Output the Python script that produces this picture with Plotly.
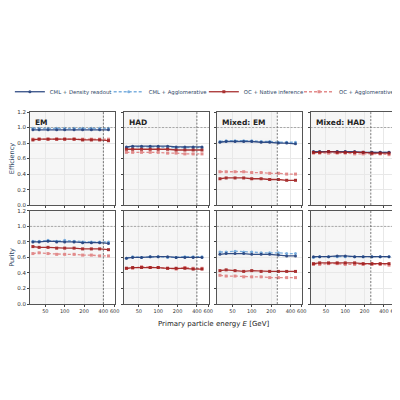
import plotly.graph_objects as go
from plotly.subplots import make_subplots

energy = [32, 40, 55, 75, 100, 140, 190, 260, 350, 480]
panels = ["EM", "HAD", "Mixed: EM", "Mixed: HAD"]
cut = [400, 400, 250, 250]

series = ["CML + Density readout", "CML + Agglomerative", "OC + Native inference", "OC + Agglomerative"]
colors = ["#1f3d7a", "#6fa8dc", "#a01c1c", "#e08080"]
dashes = ["solid", "3px,2px", "solid", "3px,2px"]
legend_x = [-0.055, 0.215, 0.475, 0.735]

eff = {
    "EM": [[0.97]*10, [0.99]*10, [0.84, 0.85, 0.85, 0.85, 0.85, 0.85, 0.84, 0.84, 0.84, 0.83], [0.85]*10],
    "HAD": [[0.75, 0.76, 0.76, 0.76, 0.76, 0.76, 0.75, 0.75, 0.75, 0.75],
            [0.74, 0.75, 0.75, 0.75, 0.75, 0.74, 0.74, 0.74, 0.74, 0.74],
            [0.72, 0.72, 0.72, 0.72, 0.72, 0.72, 0.71, 0.71, 0.71, 0.71],
            [0.68, 0.68, 0.68, 0.68, 0.68, 0.67, 0.67, 0.66, 0.66, 0.66]],
    "Mixed: EM": [[0.81, 0.82, 0.82, 0.82, 0.82, 0.81, 0.81, 0.80, 0.80, 0.79],
                  [0.82, 0.83, 0.83, 0.83, 0.83, 0.82, 0.82, 0.81, 0.81, 0.81],
                  [0.34, 0.35, 0.35, 0.35, 0.34, 0.34, 0.33, 0.33, 0.32, 0.32],
                  [0.43, 0.43, 0.43, 0.43, 0.42, 0.42, 0.41, 0.41, 0.40, 0.40]],
    "Mixed: HAD": [[0.69, 0.69, 0.69, 0.69, 0.69, 0.69, 0.68, 0.68, 0.68, 0.68],
                   [0.68, 0.69, 0.69, 0.69, 0.69, 0.68, 0.68, 0.68, 0.68, 0.68],
                   [0.68, 0.68, 0.69, 0.68, 0.68, 0.68, 0.68, 0.67, 0.67, 0.67],
                   [0.67, 0.67, 0.67, 0.67, 0.67, 0.66, 0.66, 0.66, 0.66, 0.65]],
}
pur = {
    "EM": [[0.80, 0.80, 0.81, 0.80, 0.80, 0.80, 0.79, 0.79, 0.79, 0.78],
           [0.81, 0.81, 0.82, 0.81, 0.82, 0.81, 0.80, 0.80, 0.80, 0.80],
           [0.74, 0.73, 0.73, 0.72, 0.72, 0.72, 0.71, 0.71, 0.71, 0.70],
           [0.65, 0.66, 0.65, 0.64, 0.64, 0.64, 0.63, 0.63, 0.62, 0.62]],
    "HAD": [[0.59, 0.60, 0.60, 0.61, 0.61, 0.61, 0.60, 0.60, 0.60, 0.60],
            [0.59, 0.61, 0.60, 0.61, 0.61, 0.60, 0.60, 0.61, 0.61, 0.61],
            [0.46, 0.47, 0.47, 0.47, 0.47, 0.46, 0.46, 0.46, 0.45, 0.45],
            [0.46, 0.46, 0.48, 0.47, 0.47, 0.46, 0.45, 0.47, 0.46, 0.46]],
    "Mixed: EM": [[0.64, 0.65, 0.65, 0.65, 0.64, 0.64, 0.64, 0.63, 0.62, 0.62],
                  [0.67, 0.67, 0.68, 0.67, 0.67, 0.66, 0.66, 0.66, 0.65, 0.65],
                  [0.43, 0.44, 0.43, 0.42, 0.43, 0.42, 0.42, 0.42, 0.42, 0.42],
                  [0.37, 0.36, 0.36, 0.35, 0.35, 0.35, 0.34, 0.34, 0.34, 0.34]],
    "Mixed: HAD": [[0.61, 0.61, 0.61, 0.62, 0.62, 0.61, 0.61, 0.61, 0.61, 0.61],
                   [0.60, 0.61, 0.61, 0.61, 0.61, 0.61, 0.61, 0.61, 0.61, 0.61],
                   [0.52, 0.53, 0.53, 0.53, 0.53, 0.53, 0.52, 0.52, 0.52, 0.52],
                   [0.51, 0.51, 0.52, 0.52, 0.51, 0.51, 0.51, 0.51, 0.51, 0.50]],
}

fig = make_subplots(rows=2, cols=4, shared_yaxes=True, shared_xaxes=True,
                    horizontal_spacing=0.022, vertical_spacing=0.03)

for c, p in enumerate(panels):
    for r, data in enumerate([eff, pur]):
        row, col = r + 1, c + 1
        for i in [1, 3, 0, 2]:
            fig.add_trace(go.Scatter(
                x=energy, y=data[p][i], mode="lines+markers", name=series[i],
                line=dict(color=colors[i], width=1.3, dash=dashes[i]),
                marker=dict(size=3, symbol="circle" if i < 2 else "square"),
                opacity=0.9, showlegend=(r == 0 and c == 0),
                legend="legend" if i == 0 else f"legend{i+1}"), row=row, col=col)
        fig.add_vrect(x0=20, x1=cut[c], fillcolor="#f6f6f6", line_width=0, layer="below", row=row, col=col)
        fig.add_vline(x=cut[c], line=dict(color="#444", width=0.7, dash="2px,1.5px"), row=row, col=col)
        fig.add_hline(y=1.0, line=dict(color="#666", width=0.5, dash="2px,1.5px"), row=row, col=col)
    fig.add_annotation(text="<b>" + p + "</b>", x=0.04, y=0.96, xanchor="left", yanchor="top",
                       xref=f"x{c+1 if c else ''} domain", yref=f"y{c+1 if c else ''} domain",
                       showarrow=False, font=dict(size=7.5, color="#222"))

fig.update_xaxes(type="log", range=[1.46, 2.79], tickvals=[50, 100, 200, 400, 600],
                 ticktext=["50", "100", "200", "400", "600"], tickangle=0, showline=True, mirror=True,
                 linecolor="#555", linewidth=0.8, gridcolor="#e8e8e8", ticks="outside",
                 ticklen=2, tickfont=dict(size=5, color="#333"), zeroline=False)
fig.update_xaxes(showticklabels=False, row=1)
fig.update_yaxes(range=[0, 1.2], dtick=0.2, tickformat=".1f", showline=True, mirror=True,
                 linecolor="#555", linewidth=0.8, gridcolor="#e8e8e8", ticks="outside",
                 ticklen=2, tickfont=dict(size=5.5, color="#333"), zeroline=False, automargin=False)
fig.update_yaxes(title_text="Efficiency", title_font=dict(size=6.5), title_standoff=1, row=1, col=1)
fig.update_yaxes(title_text="Purity", title_font=dict(size=6.5), title_standoff=1, row=2, col=1)
fig.add_annotation(text="Primary particle energy <i>E</i> [GeV]", x=0.5, y=-0.075, xref="paper", yref="paper",
                   yanchor="top", showarrow=False, font=dict(size=7, color="#222"))

legends = {}
for i, lx in enumerate(legend_x):
    legends["legend" if i == 0 else f"legend{i+1}"] = dict(
        x=lx, xanchor="left", y=1.03, yanchor="bottom", font=dict(size=5.3),
        itemwidth=30, bgcolor="rgba(0,0,0,0)")

fig.update_layout(width=400, height=400, plot_bgcolor="white", paper_bgcolor="white",
                  font=dict(family="DejaVu Sans"),
                  margin=dict(l=22, r=12, t=104, b=104, autoexpand=False),
                  **legends)
fig.write_html("out.html")
